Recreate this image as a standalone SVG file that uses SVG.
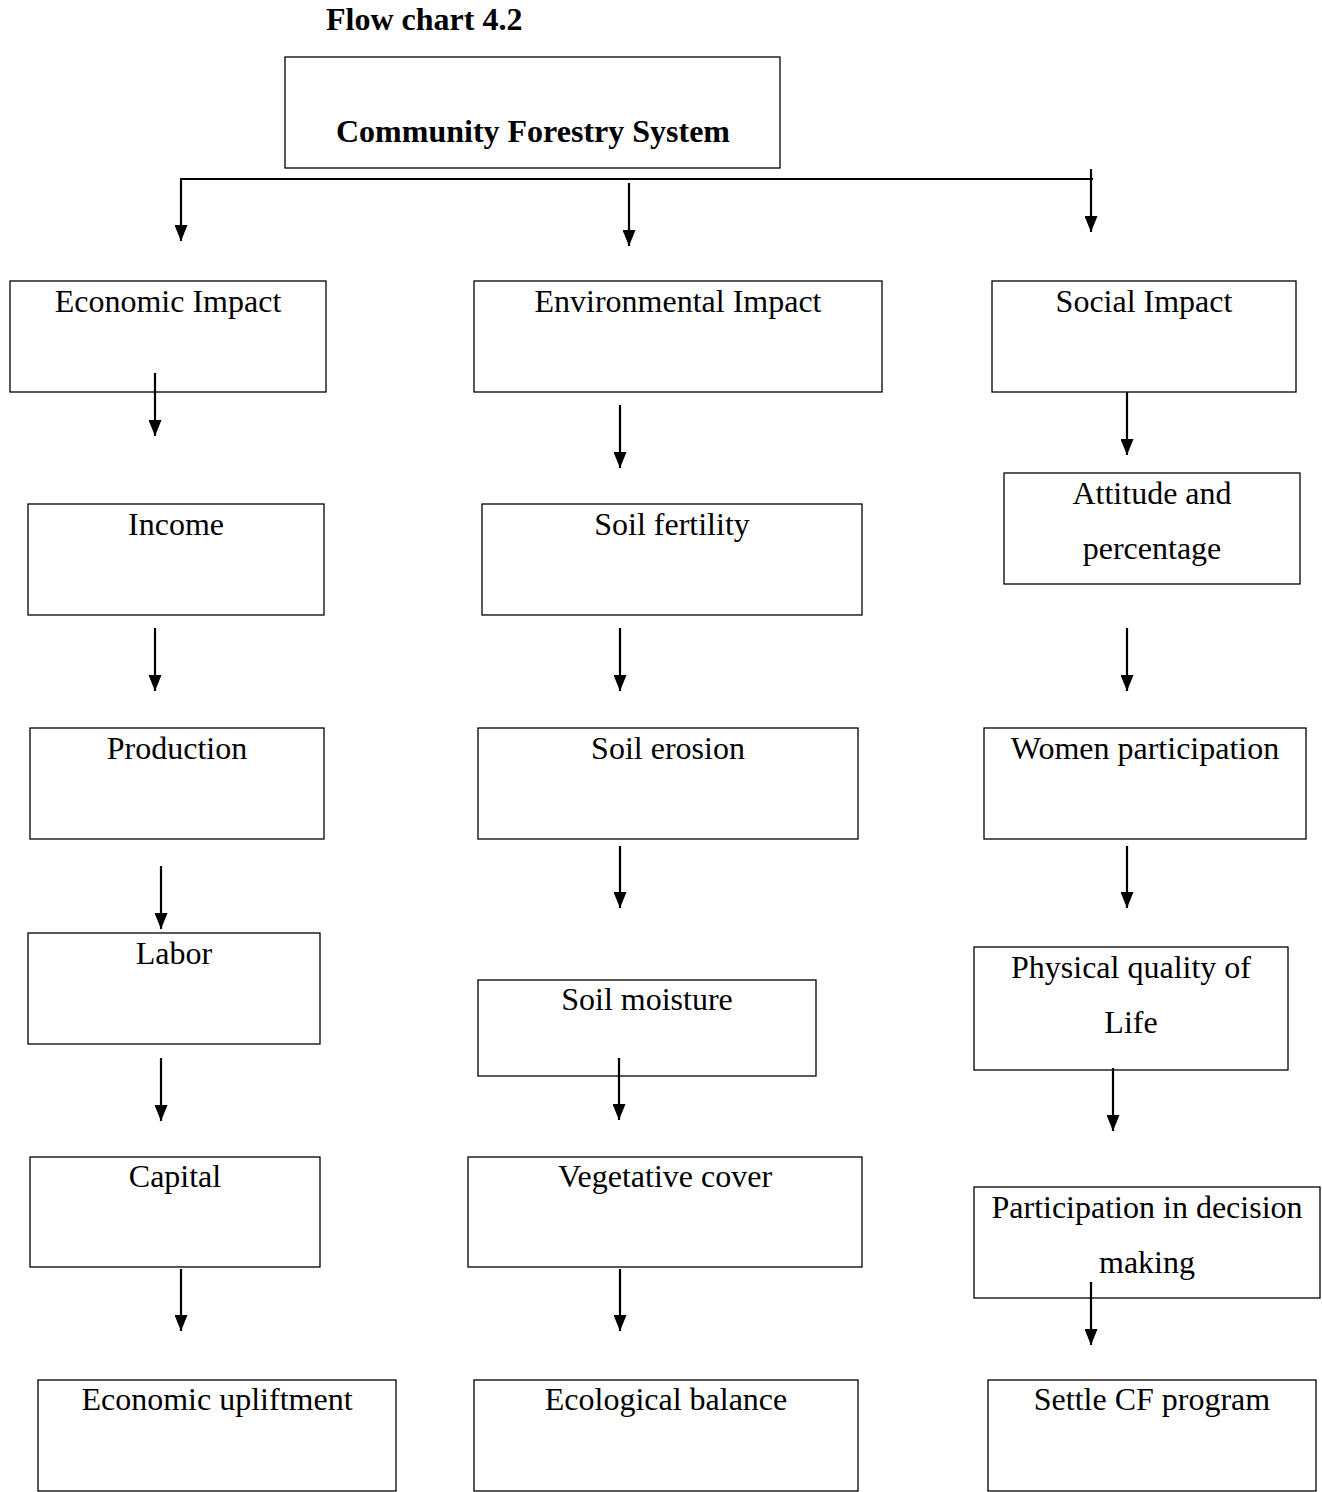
<svg xmlns="http://www.w3.org/2000/svg" width="1322" height="1492" viewBox="0 0 1322 1492">
<style>
.b{fill:#fff;stroke:#000;stroke-width:1.3}
.t{font-family:"Liberation Serif","Times New Roman",serif;font-size:32px;fill:#000;text-anchor:middle}
.h{font-family:"Liberation Serif","Times New Roman",serif;font-size:32px;font-weight:bold;fill:#000}
.c line{stroke:#000;stroke-width:2.2}
</style>
<defs>
<marker id="a" viewBox="0 0 16 13" refX="16" refY="6.5" markerWidth="16" markerHeight="13" markerUnits="userSpaceOnUse" orient="auto">
<path d="M0,0 L16,6.5 L0,13 Z" fill="#000"/>
</marker>
</defs>
<rect width="1322" height="1492" fill="#fff"/>
<text class="h" x="326" y="30">Flow chart 4.2</text>
<g id="cfs"><rect class="b" x="285" y="57" width="495" height="111"/><text class="h" x="533" y="142" text-anchor="middle">Community Forestry System</text></g>
<g id="econ"><rect class="b" x="10" y="281" width="316" height="111"/><text class="t" x="168" y="312">Economic Impact</text></g>
<g id="env"><rect class="b" x="474" y="281" width="408" height="111"/><text class="t" x="678" y="312">Environmental Impact</text></g>
<g id="soc"><rect class="b" x="992" y="281" width="304" height="111"/><text class="t" x="1144" y="312">Social Impact</text></g>
<g id="income"><rect class="b" x="28" y="504" width="296" height="111"/><text class="t" x="176" y="535">Income</text></g>
<g id="fert"><rect class="b" x="482" y="504" width="380" height="111"/><text class="t" x="672" y="535">Soil fertility</text></g>
<g id="att"><rect class="b" x="1004" y="473" width="296" height="111"/><text class="t" x="1152" y="504">Attitude and</text><text class="t" x="1152" y="559">percentage</text></g>
<g id="prod"><rect class="b" x="30" y="728" width="294" height="111"/><text class="t" x="177" y="759">Production</text></g>
<g id="eros"><rect class="b" x="478" y="728" width="380" height="111"/><text class="t" x="668" y="759">Soil erosion</text></g>
<g id="women"><rect class="b" x="984" y="728" width="322" height="111"/><text class="t" x="1145" y="759">Women participation</text></g>
<g id="labor"><rect class="b" x="28" y="933" width="292" height="111"/><text class="t" x="174" y="964">Labor</text></g>
<g id="moist"><rect class="b" x="478" y="980" width="338" height="96"/><text class="t" x="647" y="1010">Soil moisture</text></g>
<g id="pql"><rect class="b" x="974" y="947" width="314" height="123"/><text class="t" x="1131" y="978">Physical quality of</text><text class="t" x="1131" y="1033">Life</text></g>
<g id="capital"><rect class="b" x="30" y="1157" width="290" height="110"/><text class="t" x="175" y="1187">Capital</text></g>
<g id="veg"><rect class="b" x="468" y="1157" width="394" height="110"/><text class="t" x="665" y="1187">Vegetative cover</text></g>
<g id="pdm"><rect class="b" x="974" y="1187" width="346" height="111"/><text class="t" x="1147" y="1218">Participation in decision</text><text class="t" x="1147" y="1273">making</text></g>
<g id="upl"><rect class="b" x="38" y="1380" width="358" height="111"/><text class="t" x="217" y="1410">Economic upliftment</text></g>
<g id="eco"><rect class="b" x="474" y="1380" width="384" height="111"/><text class="t" x="666" y="1410">Ecological balance</text></g>
<g id="settle"><rect class="b" x="988" y="1380" width="328" height="111"/><text class="t" x="1152" y="1410">Settle CF program</text></g>
<g class="c" id="connectors">
<line x1="180" y1="179" x2="1093" y2="179"/>
<line x1="181" y1="179" x2="181" y2="241" marker-end="url(#a)"/>
<line x1="629" y1="183" x2="629" y2="246" marker-end="url(#a)"/>
<line x1="1091" y1="169" x2="1091" y2="232" marker-end="url(#a)"/>
<line x1="155" y1="373" x2="155" y2="436" marker-end="url(#a)"/>
<line x1="620" y1="405" x2="620" y2="468" marker-end="url(#a)"/>
<line x1="1127" y1="392" x2="1127" y2="455" marker-end="url(#a)"/>
<line x1="155" y1="628" x2="155" y2="691" marker-end="url(#a)"/>
<line x1="620" y1="628" x2="620" y2="691" marker-end="url(#a)"/>
<line x1="1127" y1="628" x2="1127" y2="691" marker-end="url(#a)"/>
<line x1="161" y1="866" x2="161" y2="929" marker-end="url(#a)"/>
<line x1="620" y1="846" x2="620" y2="908" marker-end="url(#a)"/>
<line x1="1127" y1="846" x2="1127" y2="908" marker-end="url(#a)"/>
<line x1="161" y1="1058" x2="161" y2="1121" marker-end="url(#a)"/>
<line x1="619" y1="1058" x2="619" y2="1120" marker-end="url(#a)"/>
<line x1="1113" y1="1068" x2="1113" y2="1131" marker-end="url(#a)"/>
<line x1="181" y1="1269" x2="181" y2="1331" marker-end="url(#a)"/>
<line x1="620" y1="1269" x2="620" y2="1331" marker-end="url(#a)"/>
<line x1="1091" y1="1282" x2="1091" y2="1345" marker-end="url(#a)"/>
</g>
</svg>
